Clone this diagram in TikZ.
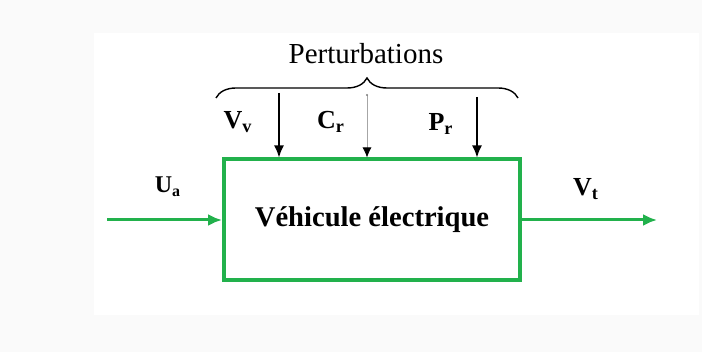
\documentclass[tikz,border=0pt]{standalone}
\usepackage{fontspec}
\setmainfont{Liberation Serif}
\usepackage{xcolor}
\definecolor{mgreen}{HTML}{22B14C}
\usetikzlibrary{positioning, arrows.meta, decorations.pathreplacing}
\tikzset{
  >=Latex, % default arrow head
  block/.style={draw=mgreen,line width=2pt,minimum width=148pt,minimum height=60.5pt,
    font=\fontsize{14.3}{16}\selectfont\bfseries},
  signal/.style={font=\fontsize{13}{15}\selectfont\bfseries,inner sep=1pt},
  green arrow/.style={-{Latex[length=7pt,width=6pt]},mgreen,line width=1.5pt},
  dist arrow/.style={-{Latex[length=6pt,width=5pt]},line width=0.8pt},
  thin arrow/.style={-{Latex[length=5pt,width=4.5pt,black]},gray!70,line width=0.4pt}
}

\begin{document}
\begin{tikzpicture}[x=0.5pt, y=-0.5pt]

  % Background
  \fill[black!2] (0,0) rectangle (702,352);
  \fill[white] (94,33) rectangle (699,315);
  \useasboundingbox (0,0) rectangle (702,352);

  % System block
  \node[block] (vehicule) at (372,220) {Véhicule électrique};

  % Input and output
  \coordinate (ua in) at (107,220);
  \coordinate (vt out) at (657,220);
  \draw[green arrow] (ua in) -- (vehicule.west);
  \draw[green arrow] (vehicule.east) -- (vt out);
  \node[signal,font=\fontsize{12}{14}\selectfont\bfseries] (ua) at (168,187) {U\textsubscript{a}};
  \node[signal] (vt) at (586,189) {V\textsubscript{t}};

  % Disturbances
  \coordinate (brace left) at (216,98);
  \coordinate (brace right) at (518,98);
  \draw[decorate,decoration={brace,amplitude=10pt},line width=0.7pt]
    (brace left) -- (brace right);
  \node[font=\fontsize{14.5}{17}\selectfont] (perturb) at (366,54) {Perturbations};

  \coordinate (vv in) at (279,93);
  \coordinate (cr in) at (367,95);
  \coordinate (pr in) at (477,97);
  \draw[dist arrow] (vv in) -- (vv in |- vehicule.north);
  \draw[thin arrow] (cr in) -- (cr in |- vehicule.north);
  \fill[gray] (cr in) circle (0.6pt);
  \draw[dist arrow] (pr in) -- (pr in |- vehicule.north);
  \node[signal] (vv) at (238,122) {V\textsubscript{v}};
  \node[signal] (cr) at (331,122) {C\textsubscript{r}};
  \node[signal] (pr) at (441,124) {P\textsubscript{r}};

\end{tikzpicture}
\end{document}
